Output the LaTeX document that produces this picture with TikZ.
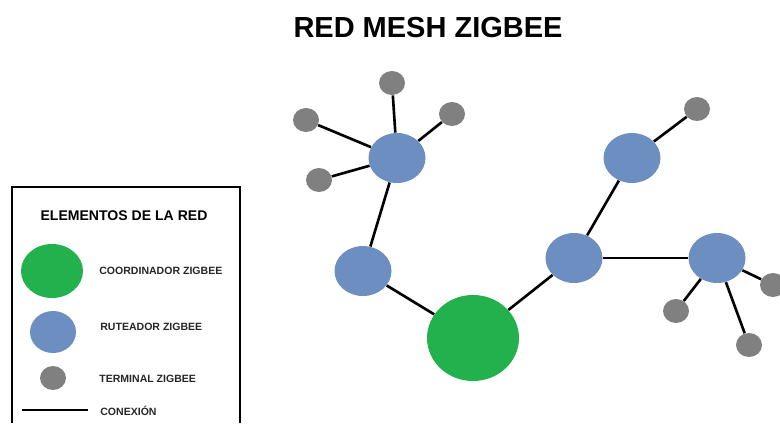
\documentclass[tikz,border=0pt]{standalone}
\usepackage{fontspec}
\setmainfont{Liberation Sans}
\usetikzlibrary{shapes.geometric}
\definecolor{coordgreen}{RGB}{34,177,76}
\definecolor{routerblue}{RGB}{108,142,192}
\definecolor{termgray}{RGB}{128,128,128}

\begin{document}
\begin{tikzpicture}[x=0.02cm,y=-0.02cm,
    coordinador/.style={ellipse,fill=coordgreen,inner sep=0pt,minimum width=1.84cm,minimum height=1.72cm},
    ruteador/.style={ellipse,fill=routerblue,inner sep=0pt,minimum width=1.14cm,minimum height=1cm},
    terminal/.style={ellipse,fill=termgray,inner sep=0pt,minimum width=0.52cm,minimum height=0.48cm},
    enlace/.style={black,line width=1.5pt},
    leyenda/.style={anchor=west,inner sep=0pt,font=\fontsize{6}{7}\selectfont\bfseries,text=black!85}]
    \useasboundingbox (0,0) rectangle (780,423);

    % titulo
    \node (titulo) at (428,28) {\fontsize{16.5}{18}\selectfont\bfseries RED MESH ZIGBEE};

    % red
    \node [coordinador] (c) at (473,338) {};
    \node [ruteador] (r1) at (397,158) {};
    \node [ruteador] (r2) at (363,271) {};
    \node [ruteador] (r3) at (574,258) {};
    \node [ruteador] (r4) at (632,158) {};
    \node [ruteador] (r5) at (717,258) {};
    \node [terminal] (t1) at (392,83) {};
    \node [terminal] (t2) at (306,120) {};
    \node [terminal] (t3) at (452,114) {};
    \node [terminal] (t4) at (319,180) {};
    \node [terminal] (t5) at (697,109) {};
    \node [terminal] (t6) at (676,311) {};
    \node [terminal] (t7) at (749,345) {};
    \node [terminal] (t8) at (773,285) {};

    \foreach \a/\b in {r1/t1,r1/t2,r1/t3,r1/t4,r1/r2,r2/c,c/r3,r3/r4,r4/t5,r3/r5,r5/t6,r5/t7,r5/t8}
        \draw [enlace] (\a) -- (\b);

    % leyenda
    \draw [black,line width=1.7pt] (12,423) -- (12,187) -- (240,187) -- (240,423);
    \node (leyenda) at (124,216) {\fontsize{8}{9}\selectfont\bfseries ELEMENTOS DE LA RED};
    \node [coordinador,minimum width=1.24cm,minimum height=1.08cm] (lc) at (52,271) {};
    \node [ruteador,minimum width=0.92cm,minimum height=0.84cm] (lr) at (53,332) {};
    \node [terminal] (lt) at (53,378) {};
    \coordinate (la) at (22,410);
    \coordinate (lb) at (88,410);
    \draw [enlace] (la) -- (lb);
    \node [leyenda] (lct) at (99,271) {COORDINADOR ZIGBEE};
    \node [leyenda] (lrt) at (100,327) {RUTEADOR ZIGBEE};
    \node [leyenda] (ltt) at (99,379) {TERMINAL ZIGBEE};
    \node [leyenda] (lat) at (100,411) {CONEXIÓN};
\end{tikzpicture}
\end{document}
